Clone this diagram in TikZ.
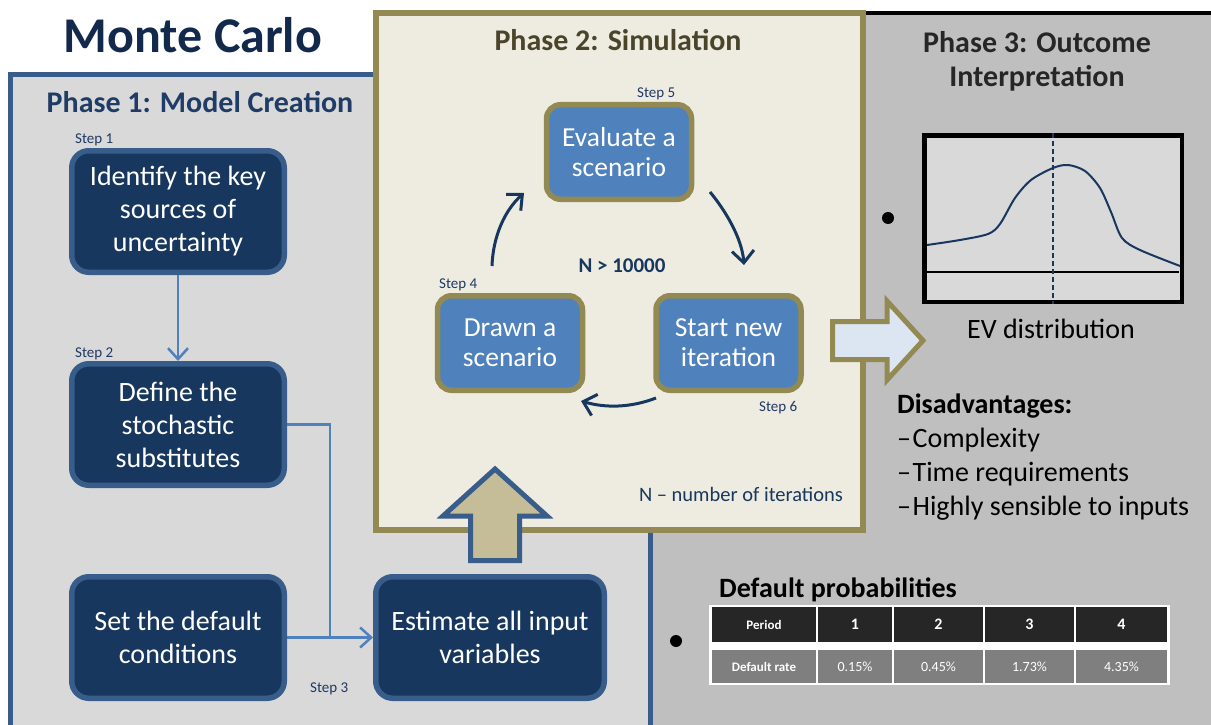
\documentclass[tikz,border=0pt]{standalone}
\usepackage{fontspec}
\setmainfont{Carlito}
\usepackage{tikz}
\usetikzlibrary{arrows.meta, positioning, calc}
\usepackage{xcolor}
\definecolor{TitleNavy}{HTML}{13294B}
\definecolor{PhaseBlue}{HTML}{1F3C66}
\definecolor{BoxNavy}{HTML}{17375E}
\definecolor{EdgeBlue}{HTML}{385D8A}
\definecolor{LinkBlue}{HTML}{4F81BD}
\definecolor{Cream}{HTML}{EEECE1}
\definecolor{Olive}{HTML}{938953}
\definecolor{OliveText}{HTML}{4A452A}
\definecolor{Tan}{HTML}{C4BD97}
\definecolor{IceBlue}{HTML}{DCE6F2}
\definecolor{PanelGrey}{HTML}{D9D9D9}
\definecolor{OutGrey}{HTML}{BFBFBF}
\definecolor{InkGrey}{HTML}{262626}
\definecolor{RowGrey}{HTML}{7F7F7F}
\definecolor{StepBlue}{HTML}{1F3864}
\tikzset{
  % Phase 1 step box
  model_box/.style={
    rectangle, rounded corners=17pt,
    draw=EdgeBlue, line width=5.5pt,
    fill=BoxNavy, text=white, align=center,
    minimum width=212.5pt, minimum height=121.5pt,
    inner sep=0pt, font=\fontsize{28}{33}\selectfont
  },
  % Phase 2 loop box
  sim_box/.style={
    rectangle, rounded corners=14pt,
    draw=Olive, line width=5.5pt,
    fill=LinkBlue, text=white, align=center,
    minimum width=145pt, minimum height=94.5pt,
    inner sep=0pt, font=\fontsize{27.5}{30}\selectfont
  },
  % Step tag
  step_tag/.style={
    anchor=base west, inner sep=0pt,
    text=StepBlue, font=\fontsize{15}{17}\selectfont
  },
  % Phase heading
  phase_title/.style={
    anchor=base, inner sep=0pt,
    font=\fontsize{30}{35}\selectfont\bfseries
  },
  % Plain text
  body_text/.style={
    inner sep=0pt, font=\fontsize{28}{34}\selectfont
  },
  % Flow arrow
  link_arrow/.style={
    draw=LinkBlue, line width=2.5pt,
    -{Straight Barb[length=11pt, width=20pt]}
  },
  % Loop arrow
  loop_arrow/.style={
    draw=BoxNavy, line width=3pt,
    -{Straight Barb[length=12pt, width=22pt]}
  },
  % Table cells
  head_cell/.style={
    rectangle, fill=InkGrey, text=white, inner sep=0pt,
    minimum height=35pt, font=\fontsize{16}{19}\selectfont\bfseries
  },
  rate_cell/.style={
    rectangle, fill=RowGrey, text=white, inner sep=0pt,
    minimum height=33pt, font=\fontsize{14}{17}\selectfont
  },
  bullet/.style={circle, fill=black, inner sep=0pt, minimum size=12pt}
}
\newcommand{\dashitem}{--\kern1.5pt}

\begin{document}
\begin{tikzpicture}[x=1pt, y=-1pt]
\useasboundingbox (0,0) rectangle (1211,725);

% ── panels ─────────────────────────────────────────────
\fill[OutGrey] (600,13) rectangle (1225,740);
\draw[black, line width=4pt] (600,13) -- (1225,13);
\draw[EdgeBlue, line width=5pt, fill=PanelGrey] (10.5,74.5) rectangle (650,760);
\draw[Olive, line width=5.5pt, fill=Cream] (376,13) rectangle (863,530);

\node[anchor=base, inner sep=0pt, text=TitleNavy,
      font=\fontsize{50}{60}\selectfont\bfseries] (title) at (193,53) {Monte Carlo};
\node[phase_title, text=PhaseBlue] (p1title) at (200,112) {Phase 1: Model Creation};
\node[phase_title, text=OliveText] (p2title) at (618,51) {Phase 2: Simulation};
% base of a two-line node sits on its last line
\node[phase_title, text=InkGrey, align=center] (p3title) at (1037,87)
  {Phase 3: Outcome\\Interpretation};

% ── phase 1: model creation ────────────────────────────
\node[model_box] (idsrc)  at (178,211.5) {Identify the key\\sources of\\uncertainty};
\node[model_box] (defsto) at (178,424.5) {Define the\\stochastic\\substitutes};
\node[model_box] (setdef) at (178,637.5) {Set the default\\conditions};
\node[model_box, minimum width=228.5pt] (estin) at (490,637.5)
  {Estimate all input\\variables};

\node[step_tag] (tag1) at (75,143) {Step 1};
\node[step_tag] (tag2) at (75,357) {Step 2};
\node[step_tag] (tag3) at (310,692) {Step 3};

\coordinate (merge) at (330,637.5);
\draw[link_arrow] (idsrc) -- (defsto);
\draw[draw=LinkBlue, line width=2.5pt] (defsto.east) -| (merge);
\draw[link_arrow] (setdef) -- (estin);

% block arrow up into the simulation
\draw[EdgeBlue, line width=5pt, fill=Tan]
  (470.5,560.5) -- (470.5,516) -- (443,516) -- (495,469)
  -- (547,516) -- (519.5,516) -- (519.5,560.5) -- cycle;

% ── phase 2: simulation loop ───────────────────────────
\node[sim_box] (evalsc)  at (619,152)   {Evaluate a\\scenario};
\node[sim_box] (drawsc)  at (510,343)   {Drawn a\\scenario};
\node[sim_box] (newiter) at (728.5,343) {Start new\\iteration};

\node[step_tag] (tag4) at (439,288) {Step 4};
\node[step_tag] (tag5) at (637,97)  {Step 5};
\node[step_tag] (tag6) at (759,411) {Step 6};

\coordinate (la) at (492,266);
\coordinate (lb) at (524,193);
\coordinate (lc) at (710,192);
\coordinate (ld) at (744,265);
\coordinate (le) at (656,398);
\coordinate (lf) at (581,401);
\draw[loop_arrow] (la) .. controls (493,236) and (505,210) .. (lb);
\draw[loop_arrow] (lc) .. controls (725,210) and (742,238) .. (ld);
\draw[loop_arrow] (le) .. controls (630,408) and (605,408) .. (lf);

\node[anchor=base, inner sep=0pt, text=BoxNavy,
      font=\fontsize{21}{25}\selectfont\bfseries] (nmin) at (622,272) {N > 10000};
\node[anchor=base, inner sep=0pt, text=BoxNavy,
      font=\fontsize{20.5}{24}\selectfont] (nnote) at (741,501) {N -- number of iterations};

% block arrow out to the outcome
\draw[Olive, line width=5pt, fill=IceBlue]
  (832.5,321.5) -- (887,321.5) -- (887,301) -- (923,340.5)
  -- (887,380) -- (887,359.5) -- (832.5,359.5) -- cycle;

% ── phase 3: outcome interpretation ────────────────────
\node[bullet] (bul1) at (888,218) {};
\node[draw=black, line width=4.5pt, fill=PanelGrey, inner sep=0pt,
      minimum width=257.5pt, minimum height=166.5pt] (evchart) at (1053,218.5) {};
\draw[black, line width=1.5pt] (927,272) -- (1179,272);
\draw[BoxNavy, line width=1.5pt, dash pattern=on 5pt off 3pt] (evchart.north) -- (evchart.south);
\draw[BoxNavy, line width=2pt] plot[smooth] coordinates {
  (927,245) (960,240) (988,234) (1000,224) (1015,198) (1031,180)
  (1053,168) (1068,165) (1085,171) (1100,188) (1111,212) (1122,238)
  (1140,250) (1180,266)};
\node[body_text, anchor=base] (evlabel) at (1051,338) {EV distribution};

\node[body_text, anchor=base west, align=left] (cons) at (897,515)
  {\textbf{Disadvantages:}\\\dashitem Complexity\\\dashitem Time requirements\\
   \dashitem Highly sensible to inputs};

% default probability table
\node[body_text, anchor=base west, font=\fontsize{28}{32}\selectfont\bfseries] (dptitle)
  at (719,597) {Default probabilities};
\node[bullet] (bul2) at (676,641) {};
\fill[white] (709,605) rectangle (1170,685);
\node[head_cell, minimum width=104pt, font=\fontsize{13}{16}\selectfont\bfseries]
  (hd0) at (764,624.5) {Period};
\node[rate_cell, minimum width=104pt, font=\fontsize{13}{16}\selectfont\bfseries]
  (rt0) at (764,666.5) {Default rate};
\foreach \i/\xa/\xb/\v in {1/817/893/0.15\%, 2/893/984/0.45\%,
                           3/984/1075/1.73\%, 4/1075/1168/4.35\%} {
  \node[head_cell, minimum width={\xb-\xa-2}] (hd\i) at ({(\xa+\xb)/2},624.5) {\i};
  \node[rate_cell, minimum width={\xb-\xa-2}] (rt\i) at ({(\xa+\xb)/2},666.5) {\v};
}

\end{tikzpicture}
\end{document}
